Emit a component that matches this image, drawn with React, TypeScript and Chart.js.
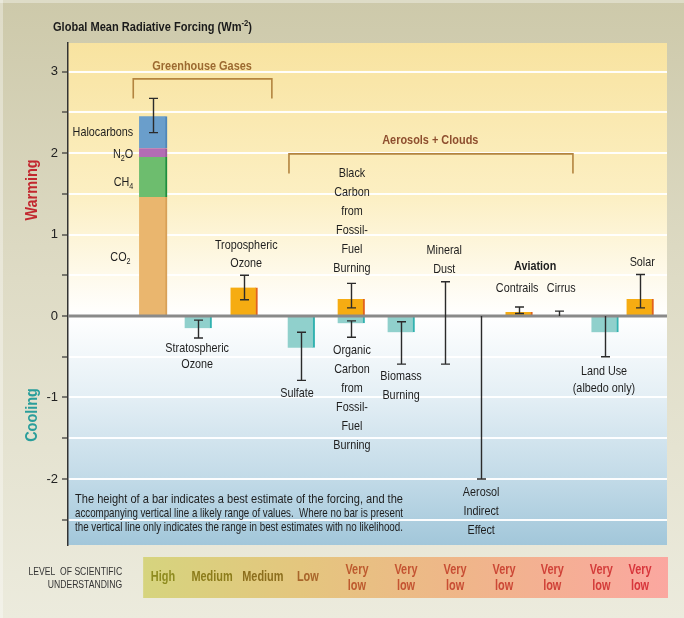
import React, { useEffect, useRef } from 'react';
import { Chart, registerables } from 'chart.js';

Chart.register(...registerables);

const FONT = '"Liberation Sans", Arial, Helvetica, sans-serif';

// ---------------- DATA ----------------
// Forcing factors and their slot position along the horizontal axis
const factorNames = [
  'Greenhouse Gases', 'Stratospheric Ozone', 'Tropospheric Ozone', 'Sulfate',
  'Black Carbon', 'Organic Carbon', 'Biomass Burning', 'Mineral Dust',
  'Aerosol Indirect Effect', 'Contrails', 'Cirrus', 'Land Use', 'Solar',
];
const factorSlots = [0, 1, 2.02, 3.29, 4.4, 4.4, 5.51, 6.49, 7.29, 8.13, 9.02, 10.04, 10.82];
// best estimate (null = no bar)
const bestEstimate = [2.45, -0.15, 0.35, -0.39, 0.21, -0.09, -0.2, null, null, 0.05, null, -0.2, 0.21];
// likely range / range of estimates
const rangeLow = [2.25, -0.27, 0.2, -0.79, 0.1, -0.26, -0.59, -0.59, -2.0, 0.03, 0, -0.5, 0.1];
const rangeHigh = [2.67, -0.05, 0.5, -0.2, 0.4, -0.06, -0.07, 0.42, 0, 0.11, 0.06, 0, 0.51];
const barGroup = ['ghg', 'teal', 'orange', 'teal', 'orange', 'teal', 'teal', null, null, 'orange', null, 'teal', 'orange'];

// stacked greenhouse-gas components
const ghgComponents = ['CO2', 'CH4', 'N2O', 'Halocarbons'];
const ghgValues = [1.46, 0.49, 0.11, 0.39];

// y axis ticks
const yTickLabels = ['3', '2', '1', '0', '-1', '-2'];

// Level of scientific understanding row
const levelLabels = ['High', 'Medium', 'Medium', 'Low', 'Very low', 'Very low', 'Very low', 'Very low', 'Very low', 'Very low', 'Very low'];
const levelSlots = [0.22, 1.31, 2.44, 3.44, 4.53, 5.62, 6.71, 7.8, 8.87, 9.96, 10.82];

// text annotations (slot, value of first line)
const annotationText = [
  ['Halocarbons'], ['N_2O'], ['CH_4'], ['CO_2'],
  ['Tropospheric', 'Ozone'], ['Stratospheric', 'Ozone'],
  ['Black', 'Carbon', 'from', 'Fossil-', 'Fuel', 'Burning'],
  ['Organic', 'Carbon', 'from', 'Fossil-', 'Fuel', 'Burning'],
  ['Sulfate'], ['Biomass', 'Burning'], ['Mineral', 'Dust'],
  ['Aerosol', 'Indirect', 'Effect'], ['Aviation'], ['Contrails'], ['Cirrus'],
  ['Solar'], ['Land Use', '(albedo only)'],
];
const annotationSlot = [-0.44, -0.44, -0.44, -0.5, 2.07, 0.98, 4.42, 4.42, 3.2, 5.51, 6.47, 7.29, 8.49, 8.09, 9.07, 10.87, 10.02];
const annotationValue = [2.258, 1.988, 1.644, 0.724, 0.871, -0.393, 1.755, -0.417, -0.945, -0.736, 0.81, -2.16, 0.613, 0.344, 0.344, 0.663, -0.675];

const noteLines = [
  'The height of a bar indicates a best estimate of the forcing, and the',
  'accompanying vertical line a likely range of values.  Where no bar is present',
  'the vertical line only indicates the range in best estimates with no likelihood.',
];

// --------------- STYLE ----------------
const ghgColors = ['#eab66e', '#6dbd6e', '#b36cb4', '#6a9ecb'];
const ghgEdges = ['#d8a058', '#1e8e3e', '#9a5a9c', '#4f86b8'];
const levelColors = ['#8e8b1f', '#8c7c1a', '#8c6e1c', '#a8652a', '#bd5a2e', '#c45432', '#c84e34', '#cc4836', '#d04238', '#d43c3a', '#d8363c'];

type Run = { t: string; s?: 'sub' | 'sup' };

function parseRuns(text: string): Run[] {
  const parts = text.split(/(_\d|\^-?\d)/).filter((p) => p.length);
  return parts.map((p) => {
    if (p.startsWith('_')) return { t: p.slice(1), s: 'sub' };
    if (p.startsWith('^')) return { t: p.slice(1), s: 'sup' };
    return { t: p };
  });
}

function drawRuns(
  ctx: CanvasRenderingContext2D,
  text: string,
  x: number,
  y: number,
  o: { size: number; bold?: boolean; color: string; align?: 'left' | 'center' | 'right'; sx?: number; rot?: number; fit?: number }
) {
  const runs = parseRuns(text);
  const fontFor = (r: Run) => `${o.bold ? 'bold ' : ''}${r.s ? Math.round(o.size * 0.7) : o.size}px ${FONT}`;
  ctx.save();
  let total = 0;
  const widths = runs.map((r) => {
    ctx.font = fontFor(r);
    const w = ctx.measureText(r.t).width;
    total += w;
    return w;
  });
  let sx = o.sx ?? 1;
  if (o.fit) sx = o.fit / total;
  ctx.translate(x, y);
  if (o.rot) ctx.rotate(o.rot);
  ctx.scale(sx, 1);
  ctx.fillStyle = o.color;
  ctx.textBaseline = 'middle';
  ctx.textAlign = 'left';
  let cx = o.align === 'center' ? -total / 2 : o.align === 'right' ? -total : 0;
  runs.forEach((r, i) => {
    ctx.font = fontFor(r);
    const dy = r.s === 'sub' ? o.size * 0.3 : r.s === 'sup' ? -o.size * 0.3 : 0;
    ctx.fillText(r.t, cx, dy);
    cx += widths[i];
  });
  ctx.restore();
}

const decorPlugin = {
  id: 'decor',
  beforeDraw(chart: any) {
    const { ctx, chartArea: a, width, height } = chart;
    ctx.save();
    const bg = ctx.createLinearGradient(0, 0, 0, height);
    bg.addColorStop(0, '#cdc9aa');
    bg.addColorStop(0.45, '#dedbc5');
    bg.addColorStop(1, '#ecebdd');
    ctx.fillStyle = bg;
    ctx.fillRect(0, 0, width, height);
    ctx.fillStyle = 'rgba(255,255,255,0.35)';
    ctx.fillRect(0, 0, width, 3);
    ctx.fillRect(0, 0, 3, height);

    const pg = ctx.createLinearGradient(0, a.top, 0, a.bottom);
    const z = (chart.scales.y.getPixelForValue(0) - a.top) / (a.bottom - a.top);
    pg.addColorStop(0, '#f8e3a0');
    pg.addColorStop(z * 0.55, '#fcefc2');
    pg.addColorStop(z, '#ffffff');
    pg.addColorStop(z + (1 - z) * 0.35, '#e4eff5');
    pg.addColorStop(z + (1 - z) * 0.7, '#c3dbe8');
    pg.addColorStop(1, '#a2c7da');
    ctx.fillStyle = pg;
    ctx.fillRect(a.left, a.top, a.right - a.left, a.bottom - a.top);
    ctx.restore();
  },
  afterDatasetsDraw(chart: any) {
    const { ctx, chartArea: a } = chart;
    const xs = chart.scales.x;
    const ys = chart.scales.y;
    ctx.save();
    // zero line
    const y0 = ys.getPixelForValue(0);
    ctx.strokeStyle = '#8a8a8a';
    ctx.lineWidth = 3;
    ctx.beginPath();
    ctx.moveTo(a.left, y0);
    ctx.lineTo(a.right, y0);
    ctx.stroke();

    // error / range bars
    ctx.strokeStyle = '#2b2b2b';
    ctx.lineWidth = 1.4;
    factorNames.forEach((_, i) => {
      const lo = rangeLow[i];
      const hi = rangeHigh[i];
      if (lo == null || hi == null) return;
      const px = Math.round(xs.getPixelForValue(factorSlots[i])) + 0.5;
      const pl = ys.getPixelForValue(lo);
      const ph = ys.getPixelForValue(hi);
      ctx.beginPath();
      ctx.moveTo(px, pl);
      ctx.lineTo(px, ph);
      [lo, hi].forEach((v) => {
        if (v === 0) return;
        const py = ys.getPixelForValue(v);
        ctx.moveTo(px - 4.5, py);
        ctx.lineTo(px + 4.5, py);
      });
      ctx.stroke();
    });

    // brackets
    ctx.strokeStyle = '#b3843f';
    ctx.lineWidth = 1.6;
    const bracket = (x1: number, x2: number, yTop: number, yBot: number) => {
      const X1 = xs.getPixelForValue(x1);
      const X2 = xs.getPixelForValue(x2);
      const T = ys.getPixelForValue(yTop);
      const B = ys.getPixelForValue(yBot);
      ctx.beginPath();
      ctx.moveTo(X1, B);
      ctx.lineTo(X1, T);
      ctx.lineTo(X2, T);
      ctx.lineTo(X2, B);
      ctx.stroke();
    };
    bracket(-0.44, 2.64, 2.91, 2.67);
    bracket(3.02, 9.33, 1.99, 1.75);
    ctx.restore();

    // group titles
    drawRuns(ctx, 'Greenhouse Gases', xs.getPixelForValue(1.09), ys.getPixelForValue(3.067), { size: 13, bold: true, color: '#9c6a30', align: 'center', sx: 0.84 });
    drawRuns(ctx, 'Aerosols + Clouds', xs.getPixelForValue(6.16), ys.getPixelForValue(2.16), { size: 13, bold: true, color: '#8e4e2e', align: 'center', sx: 0.84 });

    // annotations
    const lineH = [19, 19, 19, 19, 18, 16, 19, 19, 19, 19, 19, 19, 19, 19, 19, 19, 17];
    annotationText.forEach((lines, i) => {
      const right = i < 4;
      const px = xs.getPixelForValue(annotationSlot[i]);
      const py = ys.getPixelForValue(annotationValue[i]);
      lines.forEach((ln, k) => {
        drawRuns(ctx, ln, px, py + k * lineH[i], {
          size: 13.5,
          bold: ln === 'Aviation',
          color: '#1e1e1e',
          align: right ? 'right' : 'center',
          sx: 0.8,
        });
      });
    });

    // note
    noteLines.forEach((ln, k) => {
      drawRuns(ctx, ln, a.left + 7, ys.getPixelForValue(-2) + 20 + k * 14, { size: 13, color: '#1e1e1e', align: 'left', fit: 328 });
    });
  },
  afterDraw(chart: any) {
    const { ctx, chartArea: a } = chart;
    const xs = chart.scales.x;
    // title
    drawRuns(ctx, 'Global Mean Radiative Forcing (Wm^-2)', 53, 27, { size: 13, bold: true, color: '#1a1a1a', align: 'left', sx: 0.85 });
    // Warming / Cooling
    drawRuns(ctx, 'Warming', 33, 190, { size: 16, bold: true, color: '#c2282f', align: 'center', sx: 0.9, rot: -Math.PI / 2 });
    drawRuns(ctx, 'Cooling', 33, 415, { size: 16, bold: true, color: '#2a9e9b', align: 'center', sx: 0.9, rot: -Math.PI / 2 });

    // level of understanding band
    const bx1 = xs.getPixelForValue(-0.22);
    const bx2 = a.right + 1;
    const by1 = a.bottom + 12;
    const by2 = a.bottom + 53;
    ctx.save();
    const g = ctx.createLinearGradient(bx1, 0, bx2, 0);
    g.addColorStop(0, '#d6d47e');
    g.addColorStop(0.3, '#e4c67e');
    g.addColorStop(0.6, '#efb689');
    g.addColorStop(1, '#fba7a0');
    ctx.fillStyle = g;
    ctx.fillRect(bx1, by1, bx2 - bx1, by2 - by1);
    ctx.restore();
    drawRuns(ctx, 'LEVEL  OF SCIENTIFIC', bx1 - 21, by1 + 15, { size: 10, color: '#333333', align: 'right', sx: 0.86 });
    drawRuns(ctx, 'UNDERSTANDING', bx1 - 21, by1 + 28, { size: 10, color: '#333333', align: 'right', sx: 0.86 });
    levelLabels.forEach((lab, i) => {
      const px = xs.getPixelForValue(levelSlots[i]);
      const parts = lab.split(' ');
      if (parts.length === 1) {
        drawRuns(ctx, lab, px, by1 + 20, { size: 14, bold: true, color: levelColors[i], align: 'center', sx: 0.78 });
      } else {
        drawRuns(ctx, parts[0], px, by1 + 13, { size: 14, bold: true, color: levelColors[i], align: 'center', sx: 0.78 });
        drawRuns(ctx, parts[1], px, by1 + 29, { size: 14, bold: true, color: levelColors[i], align: 'center', sx: 0.78 });
      }
    });
  },
};

function buildDatasets() {
  const sets: any[] = [];
  let cum = 0;
  ghgComponents.forEach((name, k) => {
    sets.push({
      label: name,
      data: [{ x: factorSlots[0], y: [cum, cum + ghgValues[k]] }],
      backgroundColor: ghgColors[k],
      borderColor: ghgEdges[k],
      borderWidth: { top: 0, right: 2, bottom: 0, left: 0 },
      borderSkipped: false,
      barThickness: 28,
      grouped: false,
    });
    cum += ghgValues[k];
  });
  const grp = (key: string, fill: string, edge: string) => ({
    label: key,
    data: factorNames
      .map((_, i) => (barGroup[i] === key && bestEstimate[i] != null ? { x: factorSlots[i], y: [0, bestEstimate[i] as number] } : null))
      .filter(Boolean),
    backgroundColor: fill,
    borderColor: edge,
    borderWidth: { top: 0, right: 2, bottom: 0, left: 0 },
    borderSkipped: false,
    barThickness: 27,
    grouped: false,
  });
  sets.push(grp('orange', '#f6ac12', '#e2621c'));
  sets.push(grp('teal', '#90d0cc', '#32b2b0'));
  return sets;
}

export default function App() {
  const ref = useRef<HTMLCanvasElement>(null);
  useEffect(() => {
    document.body.style.margin = '0';
    const chart = new Chart(ref.current as HTMLCanvasElement, {
      type: 'bar',
      data: { datasets: buildDatasets() },
      options: {
        animation: false,
        responsive: false,
        devicePixelRatio: 1,
        layout: { padding: { left: 8, top: 43, right: 17, bottom: 73 } },
        plugins: { legend: { display: false }, tooltip: { enabled: false } },
        scales: {
          x: { type: 'linear', min: -1.89, max: 11.42, offset: false, display: false },
          y: {
            type: 'linear',
            min: -2.81,
            max: 3.35,
            afterFit: (s: any) => {
              s.width = 60;
            },
            border: { color: '#333333', width: 1.5 },
            grid: {
              color: (c: any) => (c.tick && c.tick.value === 0 ? 'rgba(0,0,0,0)' : 'rgba(255,255,255,0.95)'),
              lineWidth: 2,
              tickColor: '#333333',
              tickLength: 6,
              tickWidth: 1.2,
            },
            ticks: {
              stepSize: 0.5,
              includeBounds: false,
              autoSkip: false,
              padding: 4,
              color: '#222222',
              font: { family: FONT, size: 13 },
              callback: (v: any) => {
                const s = String(v);
                return Number.isInteger(v) && yTickLabels.includes(s) ? s : '';
              },
            },
          },
        },
      },
      plugins: [decorPlugin],
    } as any);
    return () => chart.destroy();
  }, []);
  return (
    <div style={{ width: 684, height: 618 }}>
      <canvas ref={ref} width={684} height={618} style={{ display: 'block' }} />
    </div>
  );
}
